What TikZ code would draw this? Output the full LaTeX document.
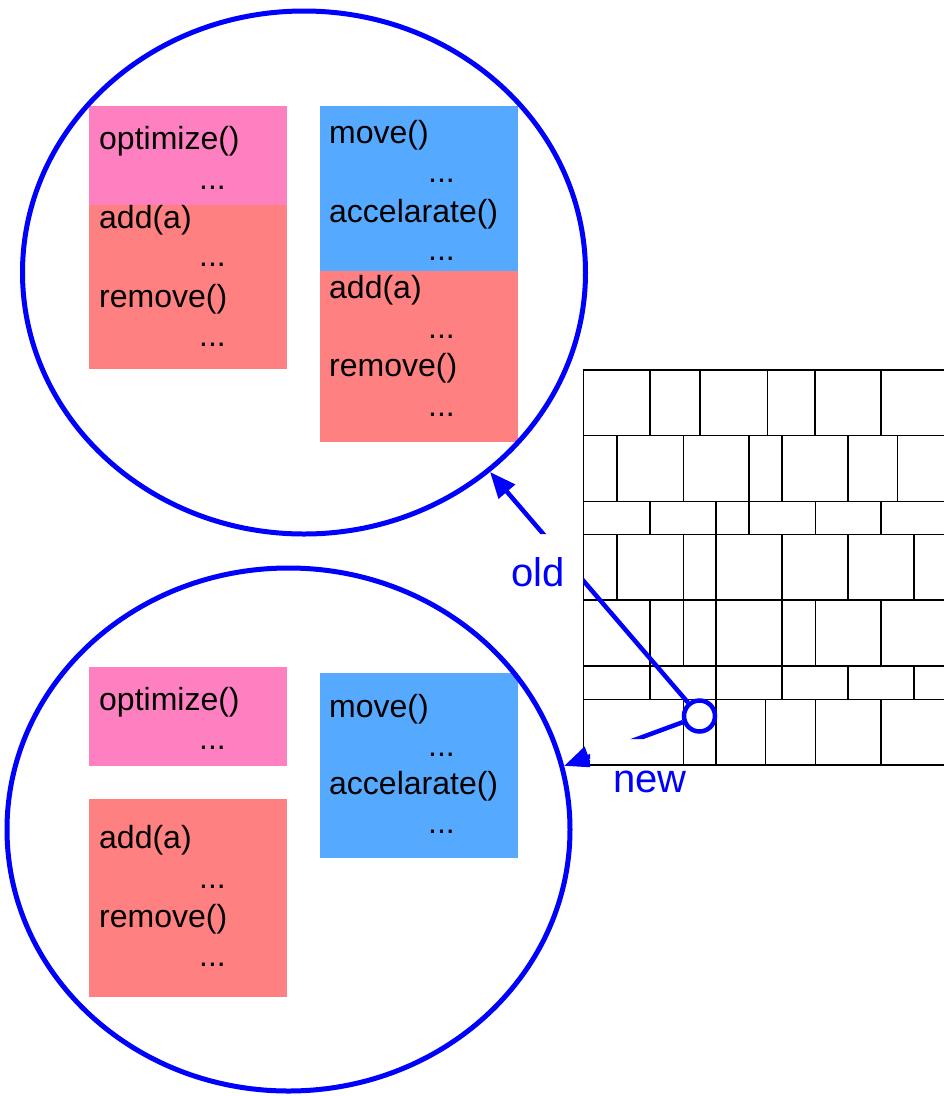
\documentclass[tikz,border=0pt]{standalone}
\usepackage{fontspec}
\setmainfont{Liberation Sans}
\usetikzlibrary{shapes.geometric,arrows.meta}
\definecolor{pinkbox}{RGB}{255,128,192}
\definecolor{redbox}{RGB}{255,128,128}
\definecolor{bluebox}{RGB}{85,170,255}
\begin{document}
\begin{tikzpicture}[x=1pt,y=-1pt,
  txt/.style={anchor=base west, inner sep=0pt, font=\fontsize{32}{38}\selectfont},
  lbl/.style={anchor=base west, inner sep=0pt, text=blue, font=\fontsize{40}{48}\selectfont},
  oval/.style={ellipse, draw=blue, line width=5pt, inner sep=0pt, minimum width=563pt, minimum height=523pt},
  conn/.style={draw=blue, line width=4.5pt, -{Triangle[length=26pt,width=21pt]}},
  gridline/.style={line width=1.5pt, draw=black}
]
\useasboundingbox (0,0) rectangle (944,1096);

% ---------- top group (old) ----------
\fill[pinkbox] (89,106) rectangle (287,205);
\fill[redbox]  (89,205) rectangle (287,369);
\fill[bluebox] (320,106) rectangle (518,271);
\fill[redbox]  (320,271) rectangle (518,442);

\node[txt] (a1) at (99,149) {optimize()};
\node[txt] (a2) at (199,189) {...};
\node[txt] (a3) at (99,228) {add(a)};
\node[txt] (a4) at (199,266) {...};
\node[txt] (a5) at (99,307) {remove()};
\node[txt] (a6) at (199,346) {...};

\node[txt] (b1) at (329,143) {move()};
\node[txt] (b2) at (428,182) {...};
\node[txt] (b3) at (329,222) {accelarate()};
\node[txt] (b4) at (428,260) {...};
\node[txt] (b5) at (329,298) {add(a)};
\node[txt] (b6) at (428,338) {...};
\node[txt] (b7) at (329,376) {remove()};
\node[txt] (b8) at (428,416) {...};

% ---------- bottom group (new) ----------
\fill[pinkbox] (89,667) rectangle (287,766);
\fill[redbox]  (89,799) rectangle (287,997);
\fill[bluebox] (320,673) rectangle (518,858);

\node[txt] (c1) at (99,710) {optimize()};
\node[txt] (c2) at (199,749) {...};
\node[txt] (c3) at (99,848) {add(a)};
\node[txt] (c4) at (199,888) {...};
\node[txt] (c5) at (99,927) {remove()};
\node[txt] (c6) at (199,966) {...};

\node[txt] (d1) at (329,717) {move()};
\node[txt] (d2) at (428,756) {...};
\node[txt] (d3) at (329,794) {accelarate()};
\node[txt] (d4) at (428,833) {...};

% ---------- ellipses ----------
\node[oval] (top) at (304,272.5) {};
\node[oval] (bot) at (288.5,829.5) {};

% ---------- grid ----------
\foreach \y in {370,435.7,501.7,534.3,600,666,699.3,765}
  \draw[gridline] (583.3,\y) -- (944,\y);
\draw[gridline] (583.3,370) -- (583.3,765);
\foreach \x in {650,700,767.3,815,881}
  \draw[gridline] (\x,370) -- (\x,435.7);
\foreach \x in {617,683.3,749,782,848,897.7}
  \draw[gridline] (\x,435.7) -- (\x,501.7);
\foreach \x in {650,716,749,815.3,881}
  \draw[gridline] (\x,501.7) -- (\x,534.3);
\foreach \x in {617,683.3,716,782,848,914}
  \draw[gridline] (\x,534.3) -- (\x,600);
\foreach \x in {650,683.3,716,782,815.3,881}
  \draw[gridline] (\x,600) -- (\x,666);
\foreach \x in {650,716,782,848,914}
  \draw[gridline] (\x,666) -- (\x,699.3);
\foreach \x in {683.3,716,765.7,815.3,881}
  \draw[gridline] (\x,699.3) -- (\x,765);

% ---------- marker and connectors ----------
\node[circle, draw=blue, fill=white, line width=4.5pt, minimum size=31pt, inner sep=0pt] (c) at (699.5,716) {};

\begin{scope}
  \clip (0,0) -- (944,0) -- (944,1096) -- (583.3,1096) -- (583.3,534) -- (0,534) -- cycle;
  \draw[conn] (c) -- (top.-47.6);
\end{scope}
\begin{scope}
  \clip (0,0) -- (944,0) -- (944,739) -- (590,739) -- (590,1096) -- (0,1096) -- cycle;
  \draw[conn] (c) -- (bot.13.5);
\end{scope}

\node[lbl] (old) at (511,586) {old};
\node[lbl] (new) at (613,792.7) {new};
\end{tikzpicture}
\end{document}
